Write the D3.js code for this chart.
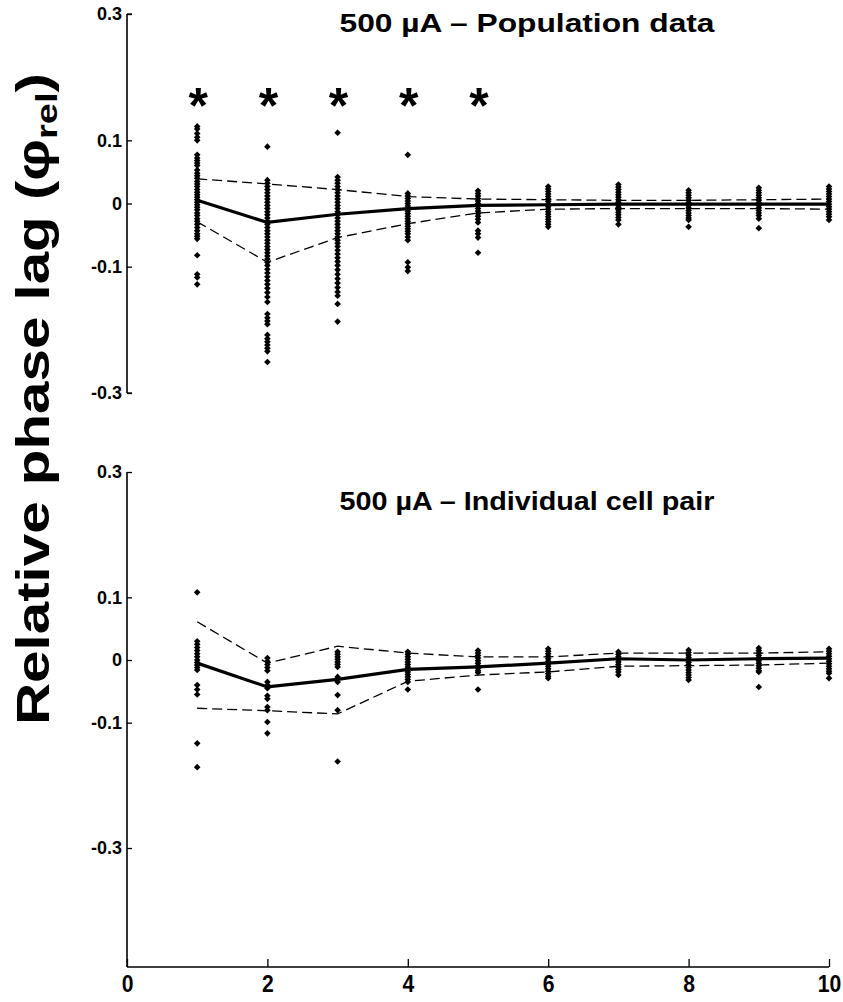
<!DOCTYPE html>
<html><head><meta charset="utf-8">
<script src="https://cdn.jsdelivr.net/npm/d3@7/dist/d3.min.js"></script>
<style>body{margin:0;background:#fff}</style>
</head><body>
<svg id="c" width="843" height="1002"></svg>
<script>
const xValues = [1,2,3,4,5,6,7,8,9,10];
const xTicks = [0,2,4,6,8,10];
const yTicks = [0.3,0.1,0,-0.1,-0.3];
const yTickLabels = ["0.3","0.1","0","-0.1","-0.3"];
const starX = [1,2,3,4,5];
const titleTop = "500 µA – Population data";
const titleBottom = "500 µA – Individual cell pair";

const topPoints = [
 [0.122,0.118,0.111,0.105,0.100,0.077,0.072,0.068,0.064,0.060,0.053,0.048,0.044,0.040,0.035,0.031,0.027,0.022,0.018,0.014,0.010,0.006,0.002,-0.002,-0.006,-0.010,-0.015,-0.019,-0.024,-0.028,-0.033,-0.038,-0.043,-0.048,-0.052,-0.056,-0.082,-0.112,-0.117,-0.128],
 [0.090,0.037,0.032,0.027,0.022,0.017,0.012,0.007,0.002,-0.003,-0.008,-0.013,-0.018,-0.023,-0.028,-0.033,-0.038,-0.043,-0.048,-0.053,-0.058,-0.063,-0.068,-0.073,-0.078,-0.083,-0.088,-0.093,-0.098,-0.104,-0.110,-0.116,-0.122,-0.128,-0.134,-0.141,-0.148,-0.156,-0.175,-0.181,-0.186,-0.191,-0.208,-0.214,-0.219,-0.224,-0.229,-0.234,-0.251],
 [0.112,0.042,0.037,0.032,0.027,0.022,0.017,0.012,0.007,0.002,-0.003,-0.008,-0.013,-0.018,-0.023,-0.028,-0.033,-0.038,-0.043,-0.048,-0.053,-0.058,-0.063,-0.068,-0.074,-0.080,-0.086,-0.092,-0.098,-0.105,-0.112,-0.119,-0.126,-0.133,-0.140,-0.146,-0.159,-0.187],
 [0.077,0.016,0.012,0.008,0.004,0.000,-0.004,-0.008,-0.012,-0.016,-0.020,-0.024,-0.028,-0.032,-0.036,-0.040,-0.044,-0.048,-0.053,-0.058,-0.093,-0.101,-0.107],
 [0.020,0.016,0.012,0.008,0.004,0.000,-0.004,-0.008,-0.012,-0.016,-0.020,-0.025,-0.030,-0.043,-0.048,-0.054,-0.078],
 [0.027,0.023,0.019,0.015,0.011,0.007,0.003,-0.001,-0.005,-0.009,-0.013,-0.017,-0.021,-0.025,-0.029,-0.033,-0.037],
 [0.030,0.026,0.022,0.018,0.014,0.010,0.006,0.002,-0.002,-0.006,-0.010,-0.014,-0.018,-0.022,-0.026,-0.033],
 [0.021,0.017,0.013,0.009,0.005,0.001,-0.003,-0.007,-0.011,-0.015,-0.019,-0.023,-0.026,-0.037],
 [0.025,0.021,0.017,0.013,0.009,0.005,0.001,-0.003,-0.007,-0.011,-0.015,-0.019,-0.024,-0.039],
 [0.027,0.023,0.019,0.015,0.011,0.007,0.003,-0.001,-0.005,-0.009,-0.013,-0.017,-0.021,-0.026]
];
const topMean  = [0.005,-0.030,-0.017,-0.008,-0.003,-0.002,-0.001,-0.001,-0.001,-0.001];
const topUpper = [0.039,0.031,0.022,0.011,0.007,0.006,0.005,0.005,0.006,0.007];
const topLower = [-0.029,-0.093,-0.054,-0.032,-0.015,-0.009,-0.008,-0.008,-0.008,-0.009];

const bottomPoints = [
 [0.108,0.030,0.025,0.020,0.015,0.010,0.005,0.000,-0.004,-0.008,-0.012,-0.016,-0.040,-0.047,-0.055,-0.133,-0.171],
 [0.003,-0.002,-0.007,-0.012,-0.017,-0.035,-0.040,-0.045,-0.057,-0.062,-0.075,-0.080,-0.099,-0.117],
 [0.013,0.009,0.005,0.001,-0.003,-0.007,-0.011,-0.027,-0.035,-0.056,-0.080,-0.162],
 [0.013,0.009,0.005,0.001,-0.003,-0.007,-0.011,-0.015,-0.019,-0.023,-0.027,-0.031,-0.035,-0.047],
 [0.015,0.011,0.007,0.003,-0.001,-0.005,-0.009,-0.013,-0.017,-0.020,-0.047],
 [0.018,0.014,0.010,0.006,0.002,-0.002,-0.006,-0.010,-0.014,-0.018,-0.022,-0.026,-0.029],
 [0.013,0.009,0.005,0.001,-0.003,-0.007,-0.011,-0.015,-0.019,-0.024],
 [0.016,0.012,0.008,0.004,0.000,-0.004,-0.008,-0.012,-0.016,-0.020,-0.024,-0.028,-0.032],
 [0.019,0.015,0.011,0.007,0.003,-0.001,-0.005,-0.009,-0.013,-0.017,-0.019,-0.043],
 [0.018,0.014,0.010,0.006,0.002,-0.002,-0.006,-0.010,-0.014,-0.018,-0.021,-0.029]
];
const bottomMean  = [-0.005,-0.043,-0.031,-0.015,-0.011,-0.005,0.002,0.000,0.002,0.003];
const bottomUpper = [0.061,-0.005,0.022,0.011,0.005,0.005,0.011,0.011,0.011,0.013];
const bottomLower = [-0.077,-0.081,-0.086,-0.034,-0.024,-0.019,-0.010,-0.009,-0.008,-0.005];

const svg = d3.select("#c");
const boldFont = "'Liberation Sans',Arial,Helvetica,sans-serif";

const x = d3.scaleLinear().domain([0,10]).range([127,829]);
const yTop = d3.scaleLinear().domain([-0.3,0.3]).range([393,14]);
const yBot = d3.scaleLinear().domain([-0.3,0.3]).range([848,472]);
const xAxisY = 967;

function panel(y, points, mean, upper, lower, title, titleY, axisBottomY) {
  const g = svg.append("g");
  const ax = d3.axisLeft(y).tickValues(yTicks).tickSize(-5).tickPadding(5)
    .tickFormat((d,i)=>yTickLabels[i]);
  const ga = g.append("g").attr("transform",`translate(${x(0)},0)`).call(ax);
  ga.select(".domain").remove();
  ga.selectAll(".tick line").attr("stroke","#000").attr("stroke-width",1.3);
  ga.selectAll(".tick text").attr("font-family",boldFont).attr("font-weight","bold")
    .style("font-size","18px").attr("fill","#000");
  g.append("line").attr("x1",x(0)).attr("x2",x(0))
    .attr("y1",y(0.3)).attr("y2",axisBottomY).attr("stroke","#000").attr("stroke-width",1.6);

  const sym = d3.symbol().type(d3.symbolSquare).size(22);
  points.forEach((col,i)=>{
    g.append("g").selectAll("path").data(col).join("path")
      .attr("d",sym)
      .attr("transform",d=>`translate(${x(xValues[i])},${y(d)}) rotate(45)`)
      .attr("fill","#000");
  });
  const line = d3.line().x((d,i)=>x(xValues[i])).y(d=>y(d));
  [upper, lower].forEach(s=>{
    g.append("path").datum(s).attr("d",line).attr("fill","none")
      .attr("stroke","#000").attr("stroke-width",1.3).attr("stroke-dasharray","10,5");
  });
  g.append("path").datum(mean).attr("d",line).attr("fill","none")
    .attr("stroke","#000").attr("stroke-width",3.2);

  g.append("text").attr("x",527).attr("y",titleY).attr("text-anchor","middle")
    .attr("font-family",boldFont).attr("font-weight","bold").attr("font-size",26.5)
    .attr("textLength",375).attr("lengthAdjust","spacingAndGlyphs")
    .text(title);
}

panel(yTop, topPoints, topMean, topUpper, topLower, titleTop, 32, yTop(-0.3));
svg.append("g").selectAll("line").data([0.3,-0.3]).join("line")
  .attr("x1",x(0)).attr("x2",x(0)+5).attr("y1",d=>yTop(d)).attr("y2",d=>yTop(d))
  .attr("stroke","#000").attr("stroke-width",1.3);

panel(yBot, bottomPoints, bottomMean, bottomUpper, bottomLower, titleBottom, 510, xAxisY);

svg.append("g").selectAll("text").data(starX).join("text")
  .attr("x",d=>x(d)+1).attr("y",123).attr("text-anchor","middle")
  .attr("font-family",boldFont).attr("font-weight","bold").attr("font-size",50)
  .text("*");

const xa = d3.axisBottom(x).tickValues(xTicks).tickSize(-8).tickPadding(8).tickFormat(d3.format("d"));
const gx = svg.append("g").attr("transform",`translate(0,${xAxisY})`).call(xa);
gx.select(".domain").attr("stroke","#000").attr("stroke-width",1.6).attr("d",`M${x(0)},0H${x(10)}`);
gx.selectAll(".tick line").attr("stroke","#000").attr("stroke-width",1.3);
gx.selectAll(".tick text").attr("x",0).attr("transform","scale(0.88,1)")
  .attr("font-family",boldFont).attr("font-weight","bold").style("font-size","24px").attr("fill","#000");

const yl = svg.append("text").attr("transform","translate(49,399) rotate(-90)")
  .attr("text-anchor","middle").attr("font-family",boldFont).attr("font-weight","bold")
  .attr("font-size",46).attr("textLength",652).attr("lengthAdjust","spacingAndGlyphs");
yl.append("tspan").text("Relative phase lag (φ");
yl.append("tspan").attr("font-size",30).attr("dy",8).text("rel");
yl.append("tspan").attr("dy",-8).text(")");
</script>
</body></html>
